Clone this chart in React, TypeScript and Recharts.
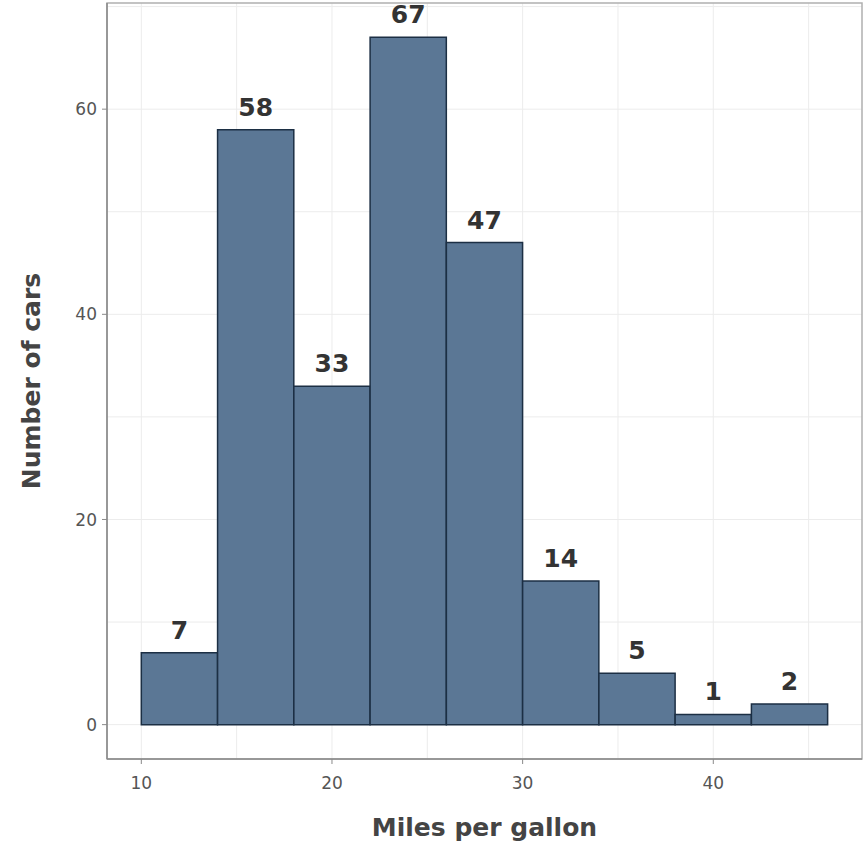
import React from 'react'
import {
    BarChart,
    Bar,
    XAxis,
    YAxis,
    CartesianGrid,
    LabelList,
    ReferenceArea,
} from 'recharts'

// histogram bins (mpg), 4 wide, given by their centres
const binCenters = [12, 16, 20, 24, 28, 32, 36, 40, 44]
const carCounts = [7, 58, 33, 67, 47, 14, 5, 1, 2]
const xTicks = [10, 20, 30, 40]
const yTicks = [0, 20, 40, 60]
const xGridLines = [10, 15, 20, 25, 30, 35, 40, 45]
const yGridLines = [0, 10, 20, 30, 40, 50, 60, 70]

const BIN_WIDTH = 4
const X_DOMAIN: [number, number] = [8.2, 47.8]
const Y_DOMAIN: [number, number] = [-3.35, 70.35]

const W = 864
const H = 846
const MARGIN = { top: 3, right: 2, left: 0, bottom: 0 }
const Y_AXIS_W = 107
const X_AXIS_H = 87

const data = binCenters.map((c, i) => ({ mpg: c, cars: carCounts[i] }))

const FONT = '"DejaVu Sans", "Open Sans", sans-serif'

export default function App() {
    // bars must touch: width of one bin in pixels (a hair less so recharts keeps it)
    const plotWidth = W - MARGIN.left - MARGIN.right - Y_AXIS_W
    const barPx = (plotWidth / (X_DOMAIN[1] - X_DOMAIN[0])) * BIN_WIDTH - 0.05

    return (
        <div style={{ position: 'absolute', left: 0, top: 0, width: W, height: H, background: '#fff' }}>
            <BarChart width={W} height={H} data={data} margin={MARGIN} barCategoryGap={0} barGap={0}>
                <CartesianGrid
                    stroke="#ececec"
                    strokeWidth={1}
                    verticalValues={xGridLines}
                    horizontalValues={yGridLines}
                />
                <XAxis
                    type="number"
                    dataKey="mpg"
                    domain={X_DOMAIN}
                    ticks={xTicks}
                    allowDataOverflow
                    height={X_AXIS_H}
                    axisLine={{ stroke: '#8a8a8a', strokeWidth: 1.5 }}
                    tickLine={{ stroke: '#8a8a8a' }}
                    tickSize={5}
                    tick={{ fill: '#555', fontSize: 17, fontFamily: FONT }}
                    tickMargin={13}
                    label={{
                        value: 'Miles per gallon',
                        position: 'insideBottom',
                        offset: 10,
                        fill: '#444',
                        fontSize: 25,
                        fontWeight: 700,
                        fontFamily: FONT,
                    }}
                />
                <YAxis
                    type="number"
                    domain={Y_DOMAIN}
                    ticks={yTicks}
                    allowDataOverflow
                    width={Y_AXIS_W}
                    axisLine={{ stroke: '#8a8a8a', strokeWidth: 1.5 }}
                    tickLine={{ stroke: '#8a8a8a' }}
                    tickSize={5}
                    tick={{ fill: '#555', fontSize: 17, fontFamily: FONT }}
                    tickMargin={5}
                    label={{
                        value: 'Number of cars',
                        angle: -90,
                        position: 'insideLeft',
                        offset: 31,
                        style: { textAnchor: 'middle' },
                        fill: '#444',
                        fontSize: 25,
                        fontWeight: 700,
                        fontFamily: FONT,
                    }}
                />
                {/* panel border (theme_bw style) */}
                <ReferenceArea
                    x1={X_DOMAIN[0]}
                    x2={X_DOMAIN[1]}
                    y1={Y_DOMAIN[0]}
                    y2={Y_DOMAIN[1]}
                    fill="none"
                    stroke="#b0b0b0"
                    strokeWidth={1.5}
                    ifOverflow="visible"
                />
                <Bar
                    dataKey="cars"
                    fill="#5b7795"
                    stroke="#1c2f44"
                    strokeWidth={1.5}
                    barSize={barPx}
                    isAnimationActive={false}
                >
                    <LabelList
                        dataKey="cars"
                        position="top"
                        offset={14}
                        fill="#333"
                        fontSize={25}
                        fontWeight={700}
                        fontFamily={FONT}
                    />
                </Bar>
            </BarChart>
        </div>
    )
}
